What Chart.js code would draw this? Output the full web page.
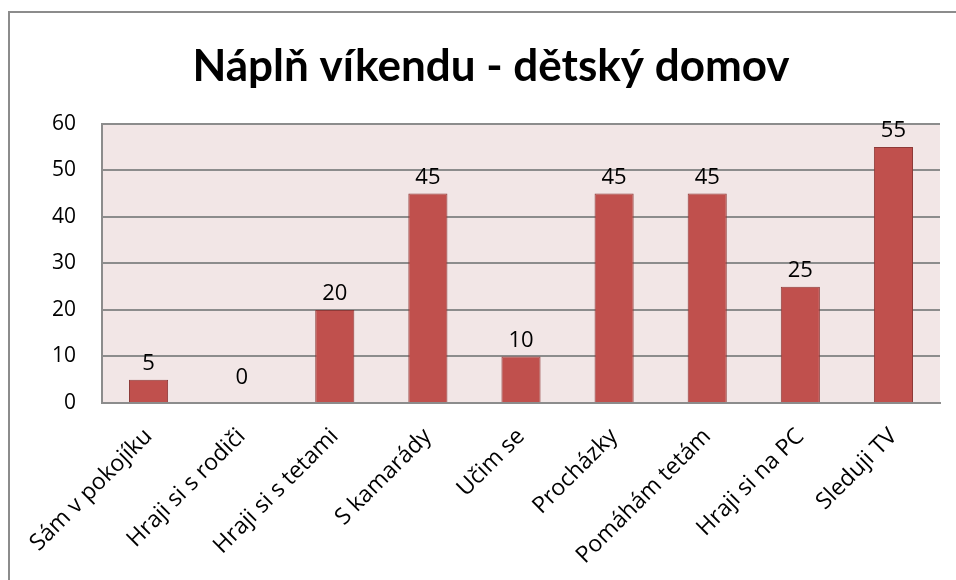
<!DOCTYPE html>
<html>
<head>
<meta charset="utf-8">
<script src="https://cdn.jsdelivr.net/npm/chart.js@4.4.1/dist/chart.umd.min.js"></script>
<style>
html,body{margin:0;padding:0;background:#fff;overflow:hidden;}
#wrap{width:956px;height:580px;position:relative;}
</style>
</head>
<body>
<div id="wrap"><canvas id="c" width="956" height="580"></canvas></div>
<script>
const titleText = "Náplň víkendu - dětský domov";
const categories = ["Sám v pokojíku","Hraji si s rodiči","Hraji si s tetami","S kamarády","Učim se","Procházky","Pomáhám tetám","Hraji si na PC","Sleduji TV"];
const values = [5,0,20,45,10,45,45,25,55];
const yTicks = [0,10,20,30,40,50,60];

const frame = {
  id:'frame',
  beforeDraw(chart){
    const ctx = chart.ctx, a = chart.chartArea;
    ctx.save();
    ctx.fillStyle='#fff';
    ctx.fillRect(0,0,chart.width,chart.height);
    ctx.strokeStyle='#8c8c8c';
    ctx.lineWidth=2;
    ctx.strokeRect(9,12,2000,2000);
    ctx.fillStyle='#F2E6E6';
    ctx.fillRect(a.left,a.top,a.right-a.left,a.bottom-a.top);
    ctx.restore();
  },
  afterDatasetsDraw(chart){
    const ctx = chart.ctx;
    const meta = chart.getDatasetMeta(0);
    ctx.save();
    ctx.font = '22px "Open Sans", sans-serif';
    ctx.fillStyle='#000';
    ctx.textAlign='center';
    ctx.textBaseline='middle';
    meta.data.forEach((el,i)=>{
      ctx.fillText(String(values[i]), el.x, el.y-(values[i]===0?25:16));
    });
    ctx.restore();
  }
};

new Chart(document.getElementById('c'),{
  type:'bar',
  data:{labels:categories,datasets:[{data:values,backgroundColor:'#C0504D',borderColor:'#8E3A38',borderWidth:1,categoryPercentage:1,barPercentage:0.42}]},
  options:{
    responsive:false,animation:false,
    layout:{padding:{left:42,right:16,top:0,bottom:0}},
    plugins:{
      legend:{display:false},tooltip:{enabled:false},
      title:{display:true,text:titleText,color:'#000',font:{family:'Lato',size:44,weight:'bold'},padding:{top:40,bottom:31}}
    },
    scales:{
      x:{
        grid:{display:false,drawTicks:false},
        border:{display:true,color:'#8c8c8c',width:2},
        ticks:{color:'#000',font:{family:'"Open Sans", sans-serif',size:23},minRotation:45,maxRotation:45,padding:20},
        afterFit(s){s.height=177;}
      },
      y:{
        min:0,max:60,
        afterBuildTicks(s){s.ticks=yTicks.map(v=>({value:v}));},
        grid:{color:'#8c8c8c',lineWidth:2,drawTicks:false},
        border:{display:true,color:'#8c8c8c',width:2},
        ticks:{color:'#000',font:{family:'"Open Sans", sans-serif',size:21},padding:26},
        afterFit(s){s.width=60;}
      }
    }
  },
  plugins:[frame]
});
</script>
</body>
</html>
